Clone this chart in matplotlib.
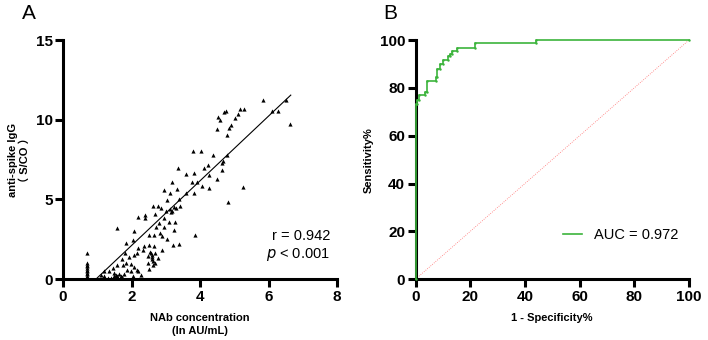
import matplotlib
matplotlib.use('Agg')
from matplotlib import pyplot as plt

plt.rcParams['font.family'] = ['Liberation Sans', 'Noto Sans CJK SC', 'DejaVu Sans']

# Panel A: NAb (ln AU/mL) vs anti-spike IgG (S/CO)
nab_ln = [5.84, 6.52, 6.11, 6.28, 6.64, 4.70, 4.76, 5.17, 5.28, 4.52, 4.58, 5.11, 5.02,
          4.91, 4.85, 4.49, 4.78, 4.80, 4.68, 4.65, 4.64, 4.49, 4.83, 5.25, 3.80, 4.02,
          4.37, 4.23, 4.12, 3.83, 3.60, 3.36, 4.26, 3.76, 3.92, 4.07, 4.26, 3.81, 3.58,
          3.19, 2.95, 3.11, 3.34, 3.39, 3.41, 3.24, 3.05, 3.13, 3.17, 2.62, 2.76, 2.85,
          2.68, 2.39, 2.19, 2.40, 2.95, 2.80, 3.09, 3.26, 2.95, 2.71, 2.08, 1.59, 3.24,
          2.83, 2.66, 2.89, 3.84, 2.51, 3.05, 2.03, 1.84, 2.19, 2.37, 2.51, 2.66, 2.89,
          3.22, 3.39, 2.33, 2.17, 2.56, 2.61, 2.47, 2.70, 1.82, 1.94, 2.06, 1.72, 1.59,
          1.76, 1.83, 1.99, 2.08, 2.17, 2.20, 2.47, 2.63, 2.64, 2.50, 1.88, 1.98, 1.45,
          1.35, 1.20, 1.11, 1.20, 1.50, 1.54, 1.59, 1.64, 1.69, 1.73, 1.79, 1.50, 1.59,
          1.40, 1.30, 2.03, 2.27, 2.76, 2.69, 2.59, 3.00, 3.30, 3.15, 2.55, 2.60,
          0.69, 0.69, 0.69, 0.69, 0.69, 0.69, 0.69, 0.69, 0.69, 0.69, 0.69, 0.69, 0.69]
igg = [11.24, 11.24, 10.55, 10.55, 9.71, 10.50, 10.55, 10.70, 10.65, 10.15, 10.00, 10.34, 10.10,
       9.70, 9.50, 9.40, 9.07, 7.80, 7.44, 7.30, 6.85, 6.29, 4.87, 5.81, 8.04, 8.04,
       7.80, 7.19, 6.96, 6.68, 6.58, 6.96, 6.54, 6.12, 6.12, 5.85, 5.74, 5.39, 5.39,
       6.08, 5.60, 5.39, 5.64, 5.06, 4.60, 4.55, 4.97, 4.39, 4.30, 4.60, 4.60, 4.49,
       4.07, 4.03, 3.93, 3.82, 3.82, 3.51, 3.61, 3.61, 3.30, 3.30, 2.99, 3.20, 3.09,
       2.88, 2.78, 2.72, 2.74, 2.76, 2.51, 2.47, 2.26, 1.94, 2.05, 2.15, 2.05, 1.84,
       2.15, 2.21, 1.84, 1.63, 1.63, 1.52, 1.46, 1.63, 1.63, 1.42, 1.52, 1.27, 0.90,
       0.90, 1.00, 0.96, 0.79, 0.58, 0.48, 1.00, 1.11, 0.90, 0.63, 0.58, 0.48, 0.69,
       0.48, 0.48, 0.25, 0.17, 0.38, 0.25, 0.21, 0.31, 0.21, 0.13, 0.33, 0.17, 0.13,
       0.10, 0.06, 0.17, 0.27, 1.32, 1.00, 1.25, 4.30, 4.45, 4.20, 1.70, 1.40,
       1.63, 1.00, 0.90, 0.80, 0.70, 0.60, 0.50, 0.40, 0.30, 0.20, 0.10, 0.05, 0.00]

# regression line as drawn
fit_x = [1.0, 6.65]
fit_slope = 2.03
fit_intercept = -1.95

# Panel B: ROC curve steps (1 - specificity %, sensitivity %)
roc_fpr = [0, 0, 0.6, 0.6, 1.2, 1.2, 3.4, 3.4, 4.0, 4.0, 7.3, 7.3, 8.0, 8.0, 9.1, 9.1,
           10.1, 10.1, 11.9, 11.9, 12.5, 12.5, 13.4, 13.4, 15.0, 15.0, 21.9, 21.9,
           43.9, 43.9, 100]
roc_tpr = [0, 73.4, 73.4, 75.0, 75.0, 77.0, 77.0, 78.3, 78.3, 83.0, 83.0, 84.6, 84.6,
           88.1, 88.1, 90.2, 90.2, 91.6, 91.6, 93.2, 93.2, 94.4, 94.4, 95.5, 95.5,
           96.5, 96.5, 98.9, 98.9, 100, 100]
auc_label = 'AUC = 0.972'


def style_axes(ax):
    for side in ['top', 'right']:
        ax.spines[side].set_visible(False)
    for side in ['left', 'bottom']:
        ax.spines[side].set_linewidth(2.2)
    ax.tick_params(direction='out', length=5.5, width=2.2, labelsize=11, pad=2)
    for lab in ax.get_xticklabels() + ax.get_yticklabels():
        lab.set_fontweight('bold')


fig = plt.figure(figsize=(7.08, 3.4), dpi=100)

# A
ax1 = fig.add_axes([0.089, 0.179, 0.387, 0.703])
ax1.scatter(nab_ln, igg, marker='^', s=9, color='black', linewidths=0, zorder=3)
ax1.plot(fit_x, [fit_slope * v + fit_intercept for v in fit_x], color='black', lw=0.8)
ax1.set_xlim(0, 8)
ax1.set_ylim(0, 15)
ax1.set_xticks([0, 2, 4, 6, 8])
ax1.set_yticks([0, 5, 10, 15])
style_axes(ax1)
ax1.set_xlabel('NAb concentration\n(ln AU/mL)', fontsize=8, fontweight='bold',
               labelpad=7, linespacing=1.4)
ax1.set_ylabel('anti-spike IgG\n（ S/CO ）', fontsize=8, fontweight='bold', labelpad=4)
ax1.text(0.975, 0.165, 'r = 0.942', transform=ax1.transAxes, fontsize=10.5, ha='right')
ax1.text(0.975, 0.09, '$\\it{p}$ < 0.001', transform=ax1.transAxes, fontsize=10.5, ha='right')
fig.text(0.031, 0.944, 'A', fontsize=15)

# B
ax2 = fig.add_axes([0.587, 0.179, 0.386, 0.703])
ax2.plot([0, 100], [0, 100], color='#ff7070', lw=0.6, ls=':')
ax2.plot(roc_fpr, roc_tpr, color='#3cb43c', lw=1.2, marker='.', markersize=1.5,
         label=auc_label, clip_on=False, zorder=4)
ax2.set_xlim(0, 100)
ax2.set_ylim(0, 100)
ax2.set_xticks([0, 20, 40, 60, 80, 100])
ax2.set_yticks([0, 20, 40, 60, 80, 100])
style_axes(ax2)
ax2.set_xlabel('1 - Specificity%', fontsize=8, fontweight='bold', labelpad=7)
ax2.set_ylabel('Sensitivity%', fontsize=8, fontweight='bold', labelpad=4)
ax2.legend(loc='lower right', bbox_to_anchor=(1.01, 0.1), frameon=False, fontsize=10.5,
           handlelength=1.3, handletextpad=0.8, markerscale=0)
fig.text(0.541, 0.944, 'B', fontsize=15)

plt.savefig('out.png', dpi=100)
